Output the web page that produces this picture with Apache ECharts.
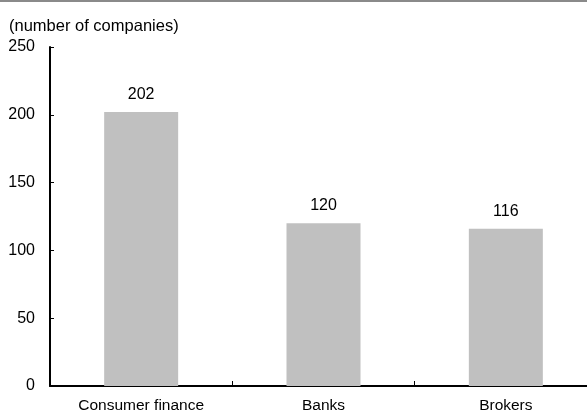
<!DOCTYPE html>
<html>
<head>
<meta charset="utf-8">
<script src="https://cdn.jsdelivr.net/npm/echarts@6/dist/echarts.min.js"></script>
<style>
  html, body { margin: 0; padding: 0; background: #fff; overflow: hidden; width: 587px; height: 414px; }
  /* canvas is a little wider than the window so the plot area runs past its right edge */
  #chart { width: 600px; height: 414px; }
</style>
</head>
<body>
<div id="chart"></div>
<script>
// Number of companies per sector
const categories = ['Consumer finance', 'Banks', 'Brokers'];
const companies = [202, 120, 116];
const unitLabel = '(number of companies)';

const FONT = '"Liberation Sans", Arial, sans-serif';

const chart = echarts.init(document.getElementById('chart'), null, { renderer: 'canvas' });

chart.setOption({
  animation: false,
  backgroundColor: '#ffffff',
  textStyle: { fontFamily: FONT },
  title: {
    text: unitLabel,
    left: 4,
    top: 13,
    textStyle: { fontFamily: FONT, fontSize: 16.5, fontWeight: 'normal', color: '#000' }
  },
  graphic: [{
    type: 'rect',
    left: 0,
    top: 0,
    shape: { width: 600, height: 2 },
    style: { fill: '#8a8a8a' }
  }],
  grid: { left: 50, width: 547, top: 47, bottom: 26, containLabel: false },
  xAxis: {
    type: 'category',
    data: categories,
    axisLine: { show: true, lineStyle: { color: '#000', width: 2 } },
    axisTick: { show: true, inside: true, length: 5, alignWithLabel: false, lineStyle: { color: '#000', width: 1 } },
    axisLabel: { color: '#000', fontSize: 15.5, fontFamily: FONT, margin: 12 },
    splitLine: { show: false }
  },
  yAxis: {
    type: 'value',
    min: 0,
    max: 250,
    interval: 50,
    axisLine: { show: true, lineStyle: { color: '#000', width: 2 } },
    axisTick: { show: true, inside: true, length: 4, lineStyle: { color: '#000', width: 1 } },
    axisLabel: { color: '#000', fontSize: 16, fontFamily: FONT, margin: 15 },
    splitLine: { show: false }
  },
  series: [{
    type: 'bar',
    data: companies,
    barWidth: 74,
    itemStyle: { color: '#c0c0c0' },
    label: {
      show: true,
      position: 'top',
      distance: 9.5,
      color: '#000',
      fontSize: 16,
      fontFamily: FONT
    }
  }]
});
</script>
</body>
</html>
